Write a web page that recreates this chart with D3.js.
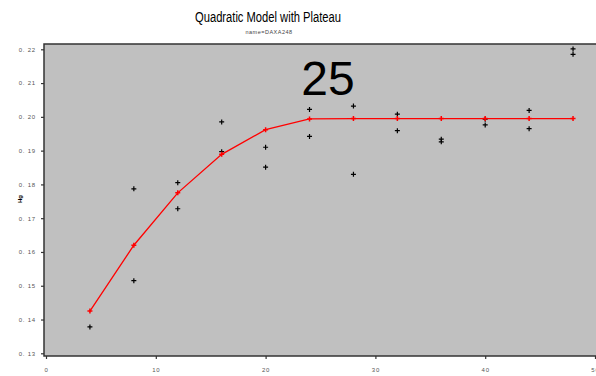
<!DOCTYPE html>
<html>
<head>
<meta charset="utf-8">
<script src="https://cdn.jsdelivr.net/npm/d3@7"></script>
<style>
  body { margin: 0; background: #fff; }
  svg { display: block; font-family: "Liberation Sans", Arial, sans-serif; }
</style>
</head>
<body>
<svg id="chart" width="596" height="376"></svg>
<script>
// data
const obsX = [4, 4, 8, 8, 12, 12, 16, 16, 20, 20, 24, 24, 28, 28, 32, 32, 36, 36, 40, 40, 44, 44, 48, 48];
const obsY = [0.1378, 0.1425, 0.1787, 0.1515, 0.1805, 0.1728, 0.1985, 0.1897, 0.1910, 0.1851, 0.2022, 0.1942,
  0.2032, 0.1830, 0.2008, 0.1959, 0.1934, 0.1926, 0.1993, 0.1976, 0.2019, 0.1965, 0.2201, 0.2185];
// second point at x=4 overlaps the fit marker; drop it from obs list
const fitX = [4, 8, 12, 16, 20, 24, 28, 32, 36, 40, 44, 48];
const fitY = [0.1425, 0.1620, 0.1775, 0.1889, 0.1962, 0.1994, 0.1995, 0.1995, 0.1995, 0.1995, 0.1995, 0.1995];
const xTicks = [0, 10, 20, 30, 40, 50];
const yTicks = [0.13, 0.14, 0.15, 0.16, 0.17, 0.18, 0.19, 0.20, 0.21, 0.22];

const svg = d3.select("#chart");
const frame = { left: 44, top: 44, right: 602, bottom: 356 };

const x = d3.scaleLinear().domain([0, 50]).range([46, 595]);
const y = d3.scaleLinear().domain([0.13, 0.22]).range([353.3, 49.3]);

// plot background
svg.append("rect")
  .attr("x", frame.left).attr("y", frame.top)
  .attr("width", frame.right - frame.left).attr("height", frame.bottom - frame.top)
  .attr("fill", "#c0c0c0").attr("stroke", "#333").attr("stroke-width", 1.5);

// axes
const yAxis = svg.append("g")
  .attr("transform", `translate(${frame.left},0)`)
  .call(d3.axisLeft(y).tickValues(yTicks).tickSize(3).tickPadding(5)
    .tickFormat(d => d3.format(".2f")(d).replace(".", ". ")));
const xAxis = svg.append("g")
  .attr("transform", `translate(0,${frame.bottom})`)
  .call(d3.axisBottom(x).tickValues(xTicks).tickSize(3).tickPadding(9));

[xAxis, yAxis].forEach(a => {
  a.select(".domain").remove();
  a.selectAll(".tick line").attr("stroke", "#333").attr("stroke-width", 1.2);
  a.selectAll(".tick text").attr("font-size", 6).attr("fill", "#555")
    .attr("letter-spacing", "0.8px").attr("font-family", "Liberation Sans, Arial, sans-serif");
});

// observed points
const obs = obsX.map((d, i) => ({ x: d, y: obsY[i] })).filter((d, i) => i !== 1);
const plus = d3.symbol().type(d3.symbolCross);
svg.append("g").selectAll("path")
  .data(obs)
  .enter()
  .append("path")
  .attr("transform", d => `translate(${x(d.x)},${y(d.y)})`)
  .attr("d", "M-2.5,0H2.5M0,-2.5V2.5")
  .attr("stroke", "#000").attr("stroke-width", 1.2).attr("fill", "none");

// fitted line
const fit = fitX.map((d, i) => ({ x: d, y: fitY[i] }));
svg.append("path")
  .datum(fit)
  .attr("d", d3.line().x(d => x(d.x)).y(d => y(d.y)))
  .attr("fill", "none").attr("stroke", "#f00").attr("stroke-width", 1.3);

svg.append("g").selectAll("path")
  .data(fit)
  .enter()
  .append("path")
  .attr("transform", d => `translate(${x(d.x)},${y(d.y)})`)
  .attr("d", "M-2.5,0H2.5M0,-2.5V2.5")
  .attr("stroke", "#f00").attr("stroke-width", 1.5).attr("fill", "none");

// titles
svg.append("text")
  .attr("x", 268).attr("y", 22)
  .attr("text-anchor", "middle").attr("font-size", 14)
  .attr("textLength", 146).attr("lengthAdjust", "spacingAndGlyphs")
  .text("Quadratic Model with Plateau");
svg.append("text")
  .attr("x", 269).attr("y", 34)
  .attr("text-anchor", "middle").attr("font-size", 5.5).attr("fill", "#444")
  .attr("letter-spacing", "0.5px")
  .text("name=DAXA248");

svg.append("text")
  .attr("x", 328).attr("y", 95)
  .attr("text-anchor", "middle").attr("font-size", 48)
  .text("25");

svg.append("text")
  .attr("transform", "translate(22,199) rotate(-90)")
  .attr("text-anchor", "middle").attr("font-size", 6).attr("font-weight", "bold")
  .text("Hg");
</script>
</body>
</html>
